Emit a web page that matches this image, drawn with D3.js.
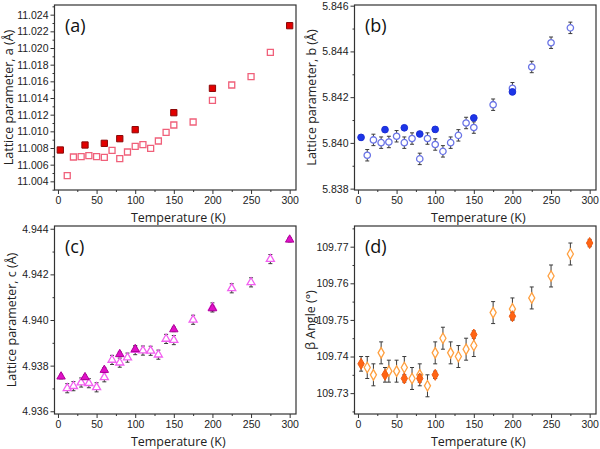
<!DOCTYPE html>
<html>
<head>
<meta charset="utf-8">
<script src="https://cdn.jsdelivr.net/npm/d3@7"></script>
<style>
  html, body { margin: 0; padding: 0; background: #fff; }
  svg { display: block; }
</style>
</head>
<body>
<svg id="chart" width="600" height="449"></svg>
<script>
// ---------------- DATA ----------------
const tempOpen = [12, 20, 30, 40, 50, 60, 70, 80, 90, 100, 110, 120, 130, 140, 150, 175, 200, 225, 250, 275];
const tempFilledA = [3, 35, 60, 80, 100, 150, 200, 300];
const tempFilledB = [4, 35, 60, 80, 100, 150, 200];
const tempFilledCD = [4, 35, 60, 80, 100, 150, 200, 300];

const aOpen = [11.00468, 11.00692, 11.00696, 11.00708, 11.00696, 11.00688, 11.00772, 11.00672, 11.00752, 11.0082,
               11.0084, 11.00796, 11.00884, 11.00988, 11.01076, 11.01112, 11.01372, 11.01556, 11.01656, 11.01948];
const aFilled = [11.00776, 11.00836, 11.00856, 11.00912, 11.0102, 11.01224, 11.01516, 11.02268];

const bOpen = [5.83946, 5.84013, 5.84001, 5.84004, 5.84029, 5.84001, 5.84019, 5.8393, 5.84019, 5.83993,
               5.83963, 5.84001, 5.84033, 5.84087, 5.84067, 5.84167, 5.84239, 5.84332, 5.84438, 5.84503];
const bOpenErr = [0.00025, 0.00025, 0.00025, 0.00025, 0.00025, 0.00025, 0.00025, 0.00025, 0.00025, 0.00025,
                  0.00025, 0.00025, 0.00025, 0.00025, 0.00025, 0.00025, 0.00025, 0.00025, 0.00025, 0.00025];
const bFilled = [5.84024, 5.84058, 5.84066, 5.84039, 5.84059, 5.84109, 5.84223];
const bFilledErr = [0.0001, 0.0001, 0.0001, 0.0001, 0.0001, 0.0001, 0.0001];

const cOpen = [4.93701, 4.93710, 4.93726, 4.93723, 4.93705, 4.93749, 4.93825, 4.93813, 4.93835, 4.93868,
               4.93866, 4.93865, 4.93848, 4.93917, 4.93912, 4.94001, 4.94055, 4.94139, 4.94165, 4.94267];
const cOpenErr = [0.0002, 0.0002, 0.0002, 0.0002, 0.0002, 0.0002, 0.0002, 0.0002, 0.0002, 0.0002,
                  0.0002, 0.0002, 0.0002, 0.0002, 0.0002, 0.0002, 0.0002, 0.0002, 0.0002, 0.0002];
const cFilled = [4.93752, 4.93749, 4.93781, 4.93850, 4.93872, 4.93959, 4.94051, 4.94352];
const cFilledErr = [0.0001, 0.0001, 0.0001, 0.0001, 0.0001, 0.0001, 0.0001, 0.0001];

const dOpen = [109.737, 109.735, 109.741, 109.736, 109.736, 109.737, 109.734, 109.735, 109.732, 109.741,
               109.745, 109.741, 109.740, 109.742, 109.743, 109.752, 109.753, 109.756, 109.762, 109.768];
const dOpenErr = [0.003, 0.003, 0.003, 0.003, 0.003, 0.003, 0.003, 0.003, 0.003, 0.003,
                  0.003, 0.003, 0.003, 0.003, 0.003, 0.003, 0.003, 0.003, 0.003, 0.003];
const dFilled = [109.738, 109.735, 109.734, 109.734, 109.735, 109.746, 109.751, 109.771];
const dFilledErr = [0.002, 0.002, 0.001, 0.001, 0.001, 0.001, 0.001, 0.001];

const xTicks = [0, 50, 100, 150, 200, 250, 300];
const aTicks = [11.004, 11.006, 11.008, 11.010, 11.012, 11.014, 11.016, 11.018, 11.020, 11.022, 11.024];
const bTicks = [5.838, 5.840, 5.842, 5.844, 5.846];
const cTicks = [4.936, 4.938, 4.940, 4.942, 4.944];
const dTicks = [109.73, 109.74, 109.75, 109.76, 109.77];

const panelLabels = ["(a)", "(b)", "(c)", "(d)"];
const yTitles = ["Lattice parameter, a (Å)", "Lattice parameter, b (Å)", "Lattice parameter, c (Å)", "β Angle (°)"];
const xTitle = "Temperature (K)";

// ---------------- LAYOUT ----------------
const svg = d3.select("#chart");
const TICKFONT = "'Liberation Sans', Arial, sans-serif";
const TITLEFONT = "'Open Sans', 'Liberation Sans', sans-serif";
const AXC = "#333";

const panels = [
  { box: {l: 54.5, r: 296, t: 5, b: 190}, yDom: [11.00296, 11.02516], ticks: aTicks, minor: 0.001, fmt: d3.format(".3f"),
    titleX: 9, shape: "square",
    open: {x: tempOpen, y: aOpen, err: null, stroke: "#f0607a", fill: "#fff"},
    filled: {x: tempFilledA, y: aFilled, err: null, stroke: "#8a0808", fill: "#e20000"} },
  { box: {l: 354.5, r: 596, t: 5, b: 190}, yDom: [5.83794, 5.84603], ticks: bTicks, minor: 0.001, fmt: d3.format(".3f"),
    titleX: 312, shape: "circle",
    open: {x: tempOpen, y: bOpen, err: bOpenErr, stroke: "#6a74e6", fill: "#fff"},
    filled: {x: tempFilledB, y: bFilled, err: bFilledErr, stroke: "#1c2fd6", fill: "#1c35e8"} },
  { box: {l: 54.5, r: 296, t: 226, b: 414}, yDom: [4.93588, 4.94412], ticks: cTicks, minor: 0.001, fmt: d3.format(".3f"),
    titleX: 12, shape: "triangle",
    open: {x: tempOpen, y: cOpen, err: cOpenErr, stroke: "#f25ef0", fill: "#fff"},
    filled: {x: tempFilledCD, y: cFilled, err: cFilledErr, stroke: "#b0009a", fill: "#e010c8"} },
  { box: {l: 354.5, r: 596, t: 226, b: 414}, yDom: [109.7243, 109.77565], ticks: dTicks, minor: 0.005, fmt: d3.format(".2f"),
    titleX: 311, shape: "diamond",
    open: {x: tempOpen, y: dOpen, err: dOpenErr, stroke: "#ffa040", fill: "#fff"},
    filled: {x: tempFilledCD, y: dFilled, err: dFilledErr, stroke: "#f05a10", fill: "#ff6414"} }
];

function symbolPath(shape, big) {
  const s = big ? 1.1 : 1;
  if (shape === "square") return d3.symbol().type(d3.symbolSquare).size(36 * s)();
  if (shape === "circle") return d3.symbol().type(d3.symbolCircle).size(32 * s)();
  if (shape === "triangle") return d3.symbol().type(d3.symbolTriangle).size(28 * s)();
  return d3.symbol().type(d3.symbolDiamond).size(32 * s)();
}

panels.forEach((p, i) => {
  const g = svg.append("g");
  const x = d3.scaleLinear().domain([-4.5, 308.2]).range([p.box.l, p.box.r]);
  const y = d3.scaleLinear().domain(p.yDom).range([p.box.b, p.box.t]);

  // minor ticks
  const xMinor = d3.range(25, 301, 50);
  const yMinor = [];
  for (let v = p.ticks[0] - p.minor; v <= p.yDom[1]; v += 2 * p.minor) {
    if (v >= p.yDom[0]) yMinor.push(+v.toFixed(6));
  }
  const lastMinor = p.ticks[p.ticks.length - 1] + p.minor;
  if (lastMinor <= p.yDom[1] && !yMinor.includes(+lastMinor.toFixed(6))) yMinor.push(lastMinor);

  // x axis
  const xAxis = d3.axisBottom(x).tickValues(xTicks).tickSize(4).tickPadding(3).tickFormat(d3.format("d"));
  const gx = g.append("g").attr("transform", `translate(0,${p.box.b})`).call(xAxis);
  gx.select(".domain").remove();
  gx.selectAll("line").attr("stroke", AXC);
  gx.selectAll("text").attr("font-family", TICKFONT).attr("font-size", 10.5).attr("fill", "#222");
  g.append("g").attr("transform", `translate(0,${p.box.b})`)
    .call(d3.axisBottom(x).tickValues(xMinor).tickSize(2).tickFormat(""))
    .call(s => { s.select(".domain").remove(); s.selectAll("line").attr("stroke", AXC); });

  // y axis
  const yAxis = d3.axisLeft(y).tickValues(p.ticks).tickSize(4).tickPadding(2).tickFormat(p.fmt);
  const gy = g.append("g").attr("transform", `translate(${p.box.l},0)`).call(yAxis);
  gy.select(".domain").remove();
  gy.selectAll("line").attr("stroke", AXC);
  gy.selectAll("text").attr("font-family", TICKFONT).attr("font-size", 10.5).attr("fill", "#222");
  g.append("g").attr("transform", `translate(${p.box.l},0)`)
    .call(d3.axisLeft(y).tickValues(yMinor).tickSize(2).tickFormat(""))
    .call(s => { s.select(".domain").remove(); s.selectAll("line").attr("stroke", AXC); });

  // frame
  g.append("rect")
    .attr("x", p.box.l).attr("y", p.box.t)
    .attr("width", p.box.r - p.box.l).attr("height", p.box.b - p.box.t)
    .attr("fill", "none").attr("stroke", AXC).attr("stroke-width", 1.2);

  // titles
  g.append("text")
    .attr("x", (p.box.l + p.box.r) / 2 + 3).attr("y", p.box.b + 32)
    .attr("text-anchor", "middle")
    .attr("font-family", TITLEFONT).attr("font-size", 12.5).attr("fill", "#222")
    .text(xTitle);
  g.append("text")
    .attr("transform", `translate(${p.titleX + 4},${(p.box.t + p.box.b) / 2}) rotate(-90)`)
    .attr("text-anchor", "middle")
    .attr("font-family", TITLEFONT).attr("font-size", 12.5).attr("fill", "#222")
    .text(yTitles[i]);
  g.append("text")
    .attr("x", p.box.l + 10.5).attr("y", p.box.t + 27)
    .attr("font-family", TITLEFONT).attr("font-size", 18).attr("fill", "#111")
    .text(panelLabels[i]);

  // series
  const plot = g.append("g");
  function drawSeries(ser, isFilled) {
    const pts = ser.x.map((t, k) => ({t, v: ser.y[k], e: ser.err ? ser.err[k] : 0}));
    if (ser.err) {
      const eb = plot.append("g").attr("stroke", "#3a3a3a").attr("stroke-width", 1);
      pts.forEach(d => {
        const cx = x(d.t), y1 = y(d.v + d.e), y2 = y(d.v - d.e);
        eb.append("line").attr("x1", cx).attr("x2", cx).attr("y1", y1).attr("y2", y2);
        eb.append("line").attr("x1", cx - 2).attr("x2", cx + 2).attr("y1", y1).attr("y2", y1);
        eb.append("line").attr("x1", cx - 2).attr("x2", cx + 2).attr("y1", y2).attr("y2", y2);
      });
    }
    plot.append("g").selectAll("path").data(pts).join("path")
      .attr("d", symbolPath(p.shape, isFilled))
      .attr("transform", d => `translate(${x(d.t)},${y(d.v)})`)
      .attr("fill", ser.fill)
      .attr("stroke", ser.stroke)
      .attr("stroke-width", isFilled ? 1 : 1.3);
  }
  drawSeries(p.open, false);
  drawSeries(p.filled, true);
});
</script>
</body>
</html>
